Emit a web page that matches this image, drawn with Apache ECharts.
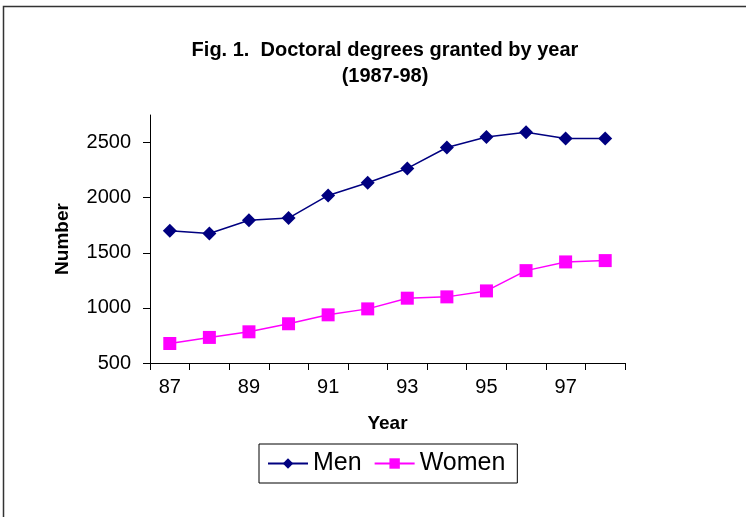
<!DOCTYPE html>
<html>
<head>
<meta charset="utf-8">
<script src="https://cdn.jsdelivr.net/npm/echarts@6/dist/echarts.min.js"></script>
<style>html,body{margin:0;padding:0;background:#fff}#c{width:746px;height:517px}</style>
</head>
<body>
<div id="c"></div>
<script>
var categories = ['87','88','89','90','91','92','93','94','95','96','97','98'];
var men = [1700, 1675, 1795, 1815, 2020, 2135, 2265, 2455, 2550, 2593, 2536, 2536];
var women = [677, 732, 783, 856, 937, 991, 1088, 1100, 1154, 1338, 1417, 1429];
var yTicks = [500, 1000, 1500, 2000, 2500];
var titleLines = ['Fig. 1.  Doctoral degrees granted by year', '(1987-98)'];

var FONT = '"Liberation Sans", Arial, sans-serif';
var chart = echarts.init(document.getElementById('c'), null, {renderer: 'canvas'});
chart.setOption({
  animation: false,
  backgroundColor: '#fff',
  graphic: [
    {type: 'rect', shape: {x: 3.5, y: 6.5, width: 900, height: 700}, style: {fill: 'none', stroke: '#333', lineWidth: 1.5}, silent: true},
    {type: 'text', style: {text: titleLines[0], x: 385, y: 50, align: 'center', verticalAlign: 'middle', font: 'bold 20px ' + FONT, fill: '#000'}},
    {type: 'text', style: {text: titleLines[1], x: 385, y: 76, align: 'center', verticalAlign: 'middle', font: 'bold 20px ' + FONT, fill: '#000'}}
  ],
  grid: {left: 150, right: 121, top: 115, bottom: 154, containLabel: false},
  legend: {
    left: 259, top: 444,
    padding: [7, 12, 7, 8],
    borderColor: '#000', borderWidth: 1,
    itemWidth: 40, itemHeight: 13, itemGap: 12,
    textStyle: {fontSize: 25, fontFamily: FONT, color: '#000'},
    data: ['Men', 'Women']
  },
  xAxis: {
    type: 'category',
    data: categories,
    boundaryGap: true,
    name: 'Year',
    nameLocation: 'middle',
    nameGap: 51,
    nameTextStyle: {fontSize: 19, fontWeight: 'bold', fontFamily: FONT, color: '#000'},
    axisLine: {lineStyle: {color: '#000', width: 1}},
    axisTick: {show: true, interval: 0, length: 7, lineStyle: {color: '#000'}},
    axisLabel: {interval: 1, fontSize: 20, fontFamily: FONT, color: '#000', margin: 14},
    splitLine: {show: false}
  },
  yAxis: {
    type: 'value',
    min: 500, max: 2750, interval: 500,
    name: 'Number',
    nameLocation: 'middle',
    nameGap: 78,
    nameRotate: 90,
    nameTextStyle: {fontSize: 19, fontWeight: 'bold', fontFamily: FONT, color: '#000'},
    axisLine: {show: true, lineStyle: {color: '#000', width: 1}},
    axisTick: {show: true, length: 7, lineStyle: {color: '#000'}, customValues: yTicks},
    axisLabel: {fontSize: 20, fontFamily: FONT, color: '#000', margin: 19, customValues: yTicks,
      formatter: function (v) { return String(v); }},
    splitLine: {show: false}
  },
  series: [
    {name: 'Men', type: 'line', data: men, symbol: 'diamond', symbolSize: 14,
     itemStyle: {color: '#000080'}, lineStyle: {color: '#000080', width: 1.5}},
    {name: 'Women', type: 'line', data: women, symbol: 'rect', symbolSize: 13,
     itemStyle: {color: '#FF00FF'}, lineStyle: {color: '#FF00FF', width: 1.5}}
  ]
});
</script>
</body>
</html>
